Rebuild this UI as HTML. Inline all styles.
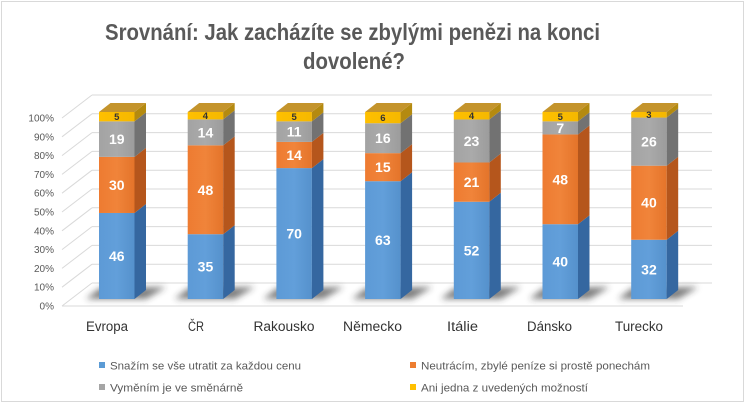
<!DOCTYPE html>
<html><head><meta charset="utf-8">
<style>
html,body{margin:0;padding:0;background:#fff;}
svg{display:block;font-family:"Liberation Sans","DejaVu Sans",sans-serif;}
</style></head>
<body>
<svg width="746" height="404" viewBox="0 0 746 404" xmlns="http://www.w3.org/2000/svg">
<defs>
<filter id="blur" x="-40%" y="-150%" width="180%" height="400%"><feGaussianBlur stdDeviation="3.2"/></filter>
<linearGradient id="gB" x1="0" y1="0" x2="1" y2="0"><stop offset="0" stop-color="#5d9ad6"/><stop offset="0.5" stop-color="#629fda"/><stop offset="1" stop-color="#5591cc"/></linearGradient>
<linearGradient id="gO" x1="0" y1="0" x2="1" y2="0"><stop offset="0" stop-color="#ee7b31"/><stop offset="0.5" stop-color="#f0843a"/><stop offset="1" stop-color="#e4742a"/></linearGradient>
<linearGradient id="gG" x1="0" y1="0" x2="1" y2="0"><stop offset="0" stop-color="#a3a3a3"/><stop offset="0.5" stop-color="#aaaaaa"/><stop offset="1" stop-color="#9c9c9c"/></linearGradient>
<linearGradient id="gY" x1="0" y1="0" x2="1" y2="0"><stop offset="0" stop-color="#ffc000"/><stop offset="1" stop-color="#f5b800"/></linearGradient>
</defs>
<rect x="0" y="0" width="746" height="404" fill="#fff"/>
<rect x="1.5" y="1.5" width="742" height="400" fill="none" stroke="#d9d9d9" stroke-width="1"/>

<!-- title -->
<text x="352.5" y="40" font-size="23" font-weight="bold" fill="#595959" text-anchor="middle" textLength="495" lengthAdjust="spacingAndGlyphs">Srovnání: Jak zacházíte se zbylými penězi na konci</text>
<text x="354" y="69" font-size="23" font-weight="bold" fill="#595959" text-anchor="middle" textLength="102" lengthAdjust="spacingAndGlyphs">dovolené?</text>

<!-- gridlines -->
<g stroke="#d9d9d9" stroke-width="1" fill="none">
<path d="M92 283H712M92 264.2H712M92 245.4H712M92 226.6H712M92 207.8H712M92 189H712M92 170.2H712M92 151.4H712M92 132.6H712M92 113.8H712M92 95H712"/>
<path d="M62 306L92 283M62 287.2L92 264.2M62 268.4L92 245.4M62 249.6L92 226.6M62 230.8L92 207.8M62 212L92 189M62 193.2L92 170.2M62 174.4L92 151.4M62 155.6L92 132.6M62 136.8L92 113.8M62 118L92 95"/>
<path d="M62 306H683"/>
</g>

<!-- y labels -->
<g font-size="10" fill="#595959" text-anchor="end">
<text x="54" y="309.5">0%</text>
<text x="54" y="290.7">10%</text>
<text x="54" y="271.9">20%</text>
<text x="54" y="253.1">30%</text>
<text x="54" y="234.3">40%</text>
<text x="54" y="215.5">50%</text>
<text x="54" y="196.7">60%</text>
<text x="54" y="177.9">70%</text>
<text x="54" y="159.1">80%</text>
<text x="54" y="140.3">90%</text>
<text x="54" y="121.5">100%</text>
</g>

<!-- shadows -->
<g fill="#2a2a2a" opacity="0.6" filter="url(#blur)">
<polygon points="86,299 146,299 166,287 100,288"/>
<polygon points="174.7,299 234.7,299 254.7,287 188.7,288"/>
<polygon points="263.4,299 323.4,299 343.4,287 277.4,288"/>
<polygon points="352.1,299 412.1,299 432.1,287 366.1,288"/>
<polygon points="440.8,299 500.8,299 520.8,287 454.8,288"/>
<polygon points="529.5,299 589.5,299 609.5,287 543.5,288"/>
<polygon points="618.2,299 678.2,299 698.2,287 632.2,288"/>
</g>

<!-- bars -->
<g id="bars"></g>

<!-- category labels -->
<g font-size="13.5" fill="#333333" text-anchor="middle">
<text x="107" y="331" textLength="42" lengthAdjust="spacingAndGlyphs">Evropa</text>
<text x="196" y="331" textLength="16" lengthAdjust="spacingAndGlyphs">ČR</text>
<text x="284" y="331" textLength="61" lengthAdjust="spacingAndGlyphs">Rakousko</text>
<text x="372.5" y="331" textLength="59" lengthAdjust="spacingAndGlyphs">Německo</text>
<text x="462.5" y="331" textLength="31" lengthAdjust="spacingAndGlyphs">Itálie</text>
<text x="549.5" y="331" textLength="45" lengthAdjust="spacingAndGlyphs">Dánsko</text>
<text x="639" y="331" textLength="48" lengthAdjust="spacingAndGlyphs">Turecko</text>
</g>

<!-- legend -->
<rect x="99" y="362" width="6" height="6" fill="#5b9bd5"/>
<text x="110" y="369.3" font-size="11" fill="#595959" textLength="191" lengthAdjust="spacingAndGlyphs">Snažím se vše utratit za každou cenu</text>
<rect x="99" y="384" width="6" height="6" fill="#a5a5a5"/>
<text x="110" y="391.7" font-size="11" fill="#595959" textLength="133" lengthAdjust="spacingAndGlyphs">Vyměním je ve směnárně</text>
<rect x="410" y="362" width="6" height="6" fill="#ed7d31"/>
<text x="421" y="369.3" font-size="11" fill="#595959" textLength="229" lengthAdjust="spacingAndGlyphs">Neutrácím, zbylé peníze si prostě ponechám</text>
<rect x="410" y="384" width="6" height="6" fill="#ffc000"/>
<text x="421" y="391.7" font-size="11" fill="#595959" textLength="167" lengthAdjust="spacingAndGlyphs">Ani jedna z uvedených možností</text>

<script>
(function(){
var ns="http://www.w3.org/2000/svg";
var g=document.getElementById("bars");
var xs=[99,187.7,276.4,365.1,453.8,542.5,631.2];
var data=[[46,30,19,5],[35,48,14,4],[70,14,11,5],[63,15,16,6],[52,21,23,4],[40,48,7,5],[32,40,26,3]];
var front=["url(#gB)","url(#gO)","url(#gG)","url(#gY)"];
var side=["#3567a0","#b5561c","#727272","#b48a10"];
var w=35.5,dx=11.5,dy=-9,bot=299,H=187;
function el(n,a){var e=document.createElementNS(ns,n);for(var k in a)e.setAttribute(k,a[k]);g.appendChild(e);return e;}
for(var i=0;i<7;i++){
  var x=xs[i],d=data[i],s=d[0]+d[1]+d[2]+d[3],yb=bot;
  var segs=[];
  for(var j=0;j<4;j++){
    var h=d[j]/s*H,yt=yb-h;
    if(j==3)yt=bot-H;
    el("rect",{x:x,y:yt,width:w,height:yb-yt,fill:front[j]});
    el("polygon",{points:(x+w)+","+yb+" "+(x+w+dx)+","+(yb+dy)+" "+(x+w+dx)+","+(yt+dy)+" "+(x+w)+","+yt,fill:side[j]});
    segs.push([yb,yt]);
    yb=yt;
  }
  var top=bot-H;
  el("polygon",{points:x+","+top+" "+(x+dx)+","+(top+dy)+" "+(x+w+dx)+","+(top+dy)+" "+(x+w)+","+top,fill:"#c4942c"});
  for(var j=0;j<4;j++){
    var cy=(segs[j][0]+segs[j][1])/2;
    var t=el("text",{x:x+w/2,y:(j==3?cy+3.3:cy+5),"text-anchor":"middle","font-weight":"bold","font-size":(j==3?"9.5":"14"),fill:(j==3?"#333":"#fff")});
    t.textContent=d[j];
  }
}
})();
</script>
</svg>
</body></html>
